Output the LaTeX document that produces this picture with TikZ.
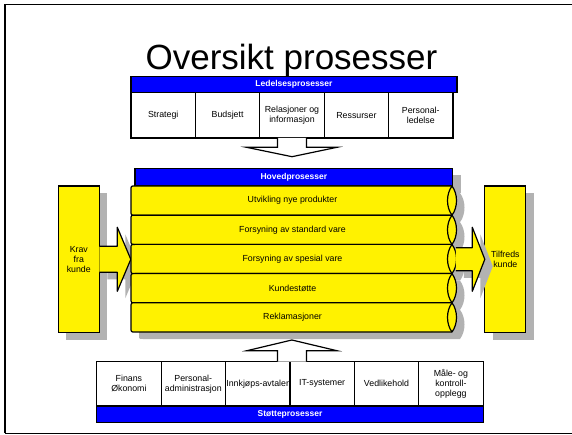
\documentclass[tikz,border=0pt]{standalone}
\usepackage{fontspec}
\setmainfont{Liberation Sans}
\usetikzlibrary{positioning, shadows, calc}

\definecolor{shade}{RGB}{178,178,178}
\tikzset{
  txt/.style={font=\fontsize{8.8}{10}\selectfont},
  cell/.style={draw, fill=white, line width=1.2pt, minimum width=64.4pt, minimum height=45.3pt, inner sep=0pt, outer sep=0pt, align=center, txt},
  head/.style={draw, fill=blue, text=white, line width=1.2pt, inner sep=0pt, outer sep=0pt, font=\fontsize{8.5}{10}\selectfont\bfseries},
  shad/.style={drop shadow={shadow xshift=8pt, shadow yshift=-7pt, fill=shade, opacity=1}},
  side/.style={draw, fill=yellow, line width=1.2pt, minimum width=41pt, minimum height=146.7pt, inner sep=0pt, outer sep=0pt, align=center, txt, shad},
  blk/.style={draw, fill=yellow, line width=1.2pt, line join=round, shad},
  hollow/.style={draw, fill=white, line width=1.2pt}
}

\begin{document}
\begin{tikzpicture}[x=1pt, y=-1pt]
\useasboundingbox (0,0) rectangle (572,435);
\draw[shade, line width=1pt] (5,433.5) -- (572,433.5);
\draw[line width=1.5pt] (5,433) -- (5,4.5) -- (572,4.5);
\node[anchor=base, inner sep=0pt] (t) at (291.5,69.3) {\fontsize{35}{40}\selectfont Oversikt prosesser};

\node[head, minimum width=326pt, minimum height=16pt, anchor=north west] (lb) at (131,76.7) {Ledelsesprosesser};
\node[cell, anchor=north west] (l1) at (131,92.7) {Strategi};
\node[cell, right=0pt of l1] (l2) {Budsjett};
\node[cell, right=0pt of l2] (l3) {Relasjoner og\\informasjon};
\node[cell, right=0pt of l3] (l4) {Ressurser};
\node[cell, right=0pt of l4] (l5) {Personal-\\ledelse};
\draw[hollow] ($(l3.south)+(-14.5,0)$) -- ++(0,9.3) -- ++(-31,0) -- ($(l3.south)+(0,18.7)$) -- ($(l3.south)+(45,9.3)$) -- ++(-30.5,0) -- ++(0,-9.3);

\node[side] (kf) at (78.8,259.3) {Krav\\fra\\kunde};
\draw[blk] ($(kf.east)+(0,-13)$) -- ++(18,0) -- ++(0,-19) -- ($(kf.east)+(31.5,0)$) -- ($(kf.east)+(18,32)$) -- ++(0,-19) -- ($(kf.east)+(0,13)$);

\node[head, shad, minimum width=317.7pt, minimum height=17.7pt, anchor=south west] (hb) at (135,186) {Hovedprosesser};
\foreach \i/\txt in {1/Utvikling nye produkter, 2/Forsyning av standard vare, 3/Forsyning av spesial vare, 4/Kundestøtte, 5/Reklamasjoner}{
  \begin{scope}[shift={(131,{186+29.2*(\i-1)})}]
    \draw[blk] (4,0) -- (321,0) .. controls (327,8) and (327,21.2) .. (321,29.2) -- (4,29.2) .. controls (0,29.2) .. (0,25) -- (0,4) .. controls (0,0) .. (4,0) -- cycle;
    \draw[line width=1.2pt] (321,0) .. controls (315,8) and (315,21.2) .. (321,29.2);
    \node[txt] (r\i) at (161.5,14.6) {\txt};
  \end{scope}
}

\node[side] (tf) at (505.3,259.3) {Tilfreds\\kunde};
\draw[blk] ($(tf.west)+(-29,-11.5)$) -- ++(16.5,0) -- ++(0,-20.5) -- (tf.west) -- ($(tf.west)+(-12.5,32)$) -- ++(0,-20.5) -- ($(tf.west)+(-29,11.5)$);

\node[cell, minimum height=44.3pt, anchor=north west] (s1) at (96.7,361.7) {Finans\\Økonomi};
\node[cell, minimum height=44.3pt, right=0pt of s1] (s2) {Personal-\\administrasjon};
\node[cell, minimum height=44.3pt, right=0pt of s2] (s3) {Innkjøps-avtaler};
\node[cell, minimum height=44.3pt, right=0pt of s3] (s4) {IT-systemer};
\node[cell, minimum height=44.3pt, right=0pt of s4] (s5) {Vedlikehold};
\node[cell, minimum height=44.3pt, right=0pt of s5] (s6) {Måle- og\\kontroll-\\opplegg};
\node[head, minimum width=386.6pt, minimum height=16.7pt, anchor=north west] (sb) at (96.7,406) {Støtteprosesser};
\draw[hollow] ($(s4.north west)+(-12.5,0)$) -- ++(0,-11) -- ++(-30.5,0) -- ($(s4.north west)+(2,-21.7)$) -- ($(s4.north west)+(47,-11)$) -- ++(-30.5,0) -- ++(0,11);
\end{tikzpicture}
\end{document}
